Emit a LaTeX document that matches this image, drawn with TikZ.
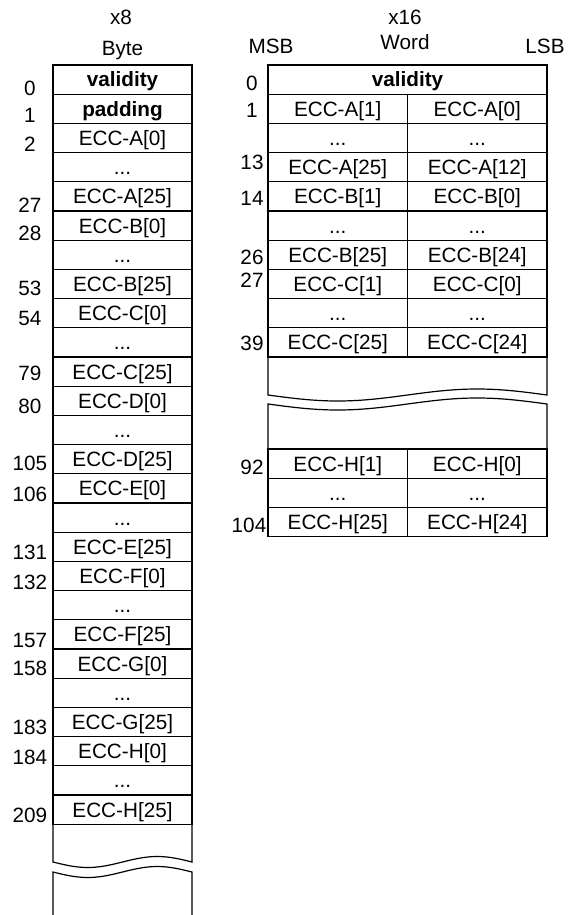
\documentclass[tikz,border=0pt]{standalone}
\usepackage{fontspec}
\setmainfont{Liberation Sans}
\usepackage{tikz}
\usetikzlibrary{positioning}

\newcommand{\rowdots}{...}

\begin{document}
\begin{tikzpicture}[x=0.5pt, y=-0.5pt, line width=0.6pt,
    font=\fontsize{10.35}{12}\selectfont,
    cell/.style={draw, rectangle, minimum height=14.6pt, inner sep=0pt, outer sep=0pt, text height=7.4pt, text depth=0pt},
    bytecell/.style={cell, minimum width=69.5pt},
    halfcell/.style={cell, minimum width=69.75pt},
    wordcell/.style={cell, minimum width=139.5pt},
    addr/.style={inner sep=0pt, text height=7.4pt, text depth=0pt}]
\useasboundingbox (0,0) rectangle (571,915);

% headers
\node[addr] (x8) at (121,17) {x8};
\node[addr] (byte) at (122.5,48) {Byte};
\node[addr] (x16) at (405,17) {x16};
\node[addr] (word) at (405,42) {Word};
\node[addr] (msb) at (271,46) {MSB};
\node[addr] (lsb) at (545,46) {LSB};

% byte layout
\node[bytecell] (b0) at (122.5,79.6) {\bfseries validity};
\node[bytecell, below=0pt of b0] (b1) {\bfseries padding};
\foreach \L [count=\i from 0] in {A,B,C,D,E,F,G,H} {
    \pgfmathsetmacro\yc{65+29.2*(2.5+3*\i)}
    \node[bytecell] (b\L0) at (122.5,\yc) {ECC-\L[0]};
    \node[bytecell, below=0pt of b\L0] (b\L1) {...};
    \node[bytecell, below=0pt of b\L1] (b\L25) {ECC-\L[25]};
}
\draw (53,824) -- plot[domain=0:1, samples=40, smooth] ({53+139*\x},{862+5.5*sin(360*\x)}) -- (192,824);
\draw (53,915) -- plot[domain=0:1, samples=40, smooth] ({53+139*\x},{872+5.5*sin(360*\x)}) -- (192,915);
\foreach \n/\py in {0/88, 1/115, 2/144, 27/205, 28/233, 53/288, 54/318, 79/373, 80/406,
    105/463, 106/494, 131/552, 132/582, 157/640, 158/668, 183/727, 184/757, 209/815}
    \node[addr] (ba\n) at (30,\py) {\n};

% word layout
\node[wordcell] (w0) at (407.5,79.6) {\bfseries validity};
\foreach \k/\m/\l in {1/ECC-A[1]/ECC-A[0], 2/\rowdots/\rowdots, 3/ECC-A[25]/ECC-A[12],
    4/ECC-B[1]/ECC-B[0], 5/\rowdots/\rowdots, 6/ECC-B[25]/ECC-B[24],
    7/ECC-C[1]/ECC-C[0], 8/\rowdots/\rowdots, 9/ECC-C[25]/ECC-C[24]} {
    \node[halfcell] (wm\k) at (337.75,{65+29.2*(\k+0.5)}) {\m};
    \node[halfcell, right=0pt of wm\k] (wl\k) {\l};
}
\foreach \k/\m/\l in {0/ECC-H[1]/ECC-H[0], 1/\rowdots/\rowdots, 2/ECC-H[25]/ECC-H[24]} {
    \node[halfcell] (hm\k) at (337.75,{449+29.2*(\k+0.5)}) {\m};
    \node[halfcell, right=0pt of hm\k] (hl\k) {\l};
}
\draw (268,357) -- plot[domain=0:1, samples=40, smooth] ({268+279*\x},{395+6*sin(360*\x)}) -- (547,357);
\draw (268,449) -- plot[domain=0:1, samples=40, smooth] ({268+279*\x},{404+6*sin(360*\x)}) -- (547,449);
\foreach \n/\px/\py in {0/252/83, 1/252/110, 13/252/162, 14/252/198, 26/252/257,
    27/252/280, 39/252/343, 92/252/467, 104/249/525}
    \node[addr] (wa\n) at (\px,\py) {\n};
\end{tikzpicture}
\end{document}
